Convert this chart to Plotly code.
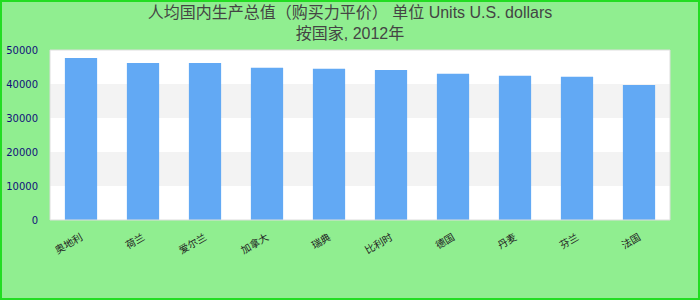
import plotly.graph_objects as go

categories = ["奥地利", "荷兰", "爱尔兰", "加拿大", "瑞典", "比利时", "德国", "丹麦", "芬兰", "法国"]
values = [47650, 46200, 46150, 44750, 44450, 44150, 43000, 42400, 42100, 39700]
title_line1 = "人均国内生产总值（购买力平价） 单位 Units U.S. dollars"
title_line2 = "按国家, 2012年"
band_ranges = [(10000, 20000), (30000, 40000)]

W, H = 700, 300
ml, mr, mt, mb = 50, 30, 50, 80
pw, ph = W - ml - mr, H - mt - mb

fig = go.Figure(go.Bar(x=categories, y=values, marker_color="#62a9f4",
                       marker_line_width=0))

shapes = []
for y0, y1 in band_ranges:
    shapes.append(dict(type="rect", xref="paper", yref="y", x0=0, x1=1, y0=y0, y1=y1,
                       fillcolor="#f3f3f3", line_width=0, layer="below"))
# plot border
shapes.append(dict(type="rect", xref="paper", yref="paper", x0=0, x1=1, y0=0, y1=1,
                   line=dict(color="#dddddd", width=1), layer="above"))
# outer figure border
shapes.append(dict(type="rect", xref="paper", yref="paper",
                   x0=(-ml + 1) / pw, x1=(W - ml - 1) / pw,
                   y0=(-mb + 1) / ph, y1=(ph + mt - 1) / ph,
                   line=dict(color="#22dd22", width=2)))

fig.update_layout(
    width=W, height=H,
    margin=dict(l=ml, r=mr, t=mt, b=mb),
    paper_bgcolor="#90ee90", plot_bgcolor="#ffffff",
    bargap=0.48,
    showlegend=False,
    title=dict(text=title_line1 + "<br>" + title_line2, x=0.5, xref="container",
               xanchor="center", yref="container", y=1 - 18 / H, yanchor="middle",
               font=dict(family="Liberation Sans, Noto Sans CJK SC", size=16, color="#444444")),
    shapes=shapes,
    xaxis=dict(tickangle=-30, showgrid=False, zeroline=False, showline=False,
               automargin=False,
               ticks="outside", ticklen=7, tickcolor="rgba(0,0,0,0)",
               tickfont=dict(family="DejaVu Sans, Noto Sans CJK SC", size=10, color="#222222")),
    yaxis=dict(range=[0, 50000], dtick=10000, tickformat="d", showgrid=False,
               zeroline=False, showline=False, automargin=False,
               ticks="outside", ticklen=9, tickcolor="rgba(0,0,0,0)",
               tickfont=dict(family="DejaVu Sans", size=10, color="#10107a")),
)

fig.write_html("out.html")
